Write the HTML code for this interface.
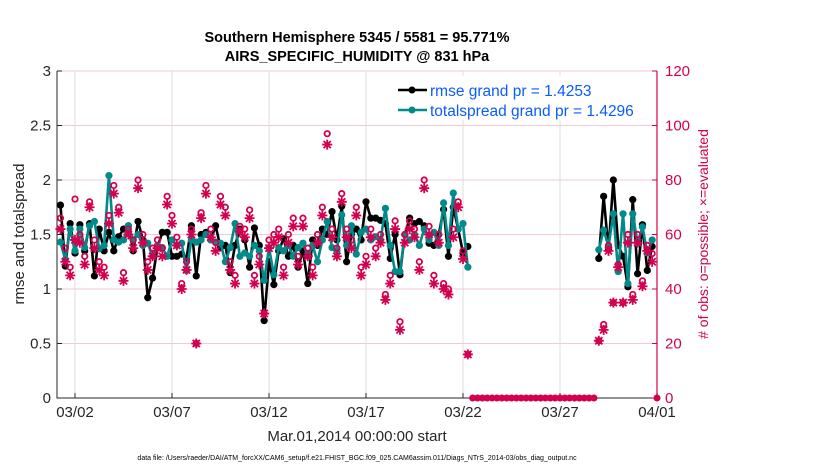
<!DOCTYPE html>
<html><head><meta charset="utf-8"><style>
body{margin:0;background:#fff;}
svg{display:block;font-family:"Liberation Sans",sans-serif;}
</style></head><body>
<svg id="chart" width="830" height="470"></svg>
<script>
const rmse1=[1.77,1.21,1.60,1.33,1.59,1.35,1.60,1.12,1.55,1.35,
1.52,1.35,1.48,1.55,1.58,1.35,1.62,1.45,0.92,1.10,
1.38,1.52,1.52,1.30,1.30,1.32,1.28,1.58,1.12,1.50,
1.52,1.45,1.58,1.38,1.40,1.15,1.40,1.55,1.45,1.20,
1.56,1.40,0.71,1.25,1.04,1.35,1.46,1.30,1.40,1.20,
1.35,1.05,1.45,1.40,1.55,1.50,1.71,1.45,1.76,1.25,
1.50,1.55,1.45,1.80,1.65,1.65,1.63,1.60,1.28,1.50,
1.13,1.50,1.65,1.60,1.62,1.58,1.42,1.40,1.50,1.73,
1.30,1.75,1.55,1.33,1.39];
const spread1=[1.43,1.27,1.55,1.35,1.55,1.38,1.58,1.62,1.37,1.40,
2.04,1.45,1.43,1.45,1.58,1.45,1.50,1.40,1.42,1.30,
1.40,1.38,1.30,1.45,1.40,1.42,1.17,1.45,1.43,1.45,
1.50,1.45,1.43,1.42,1.25,1.38,1.60,1.30,1.33,1.30,
1.40,1.35,1.08,1.38,1.13,1.38,1.35,1.40,1.30,1.38,
1.42,1.30,1.40,1.25,1.45,1.62,1.38,1.35,1.68,1.40,
1.58,1.32,1.52,1.55,1.45,1.48,1.45,1.74,1.40,1.16,
1.16,1.50,1.45,1.50,1.40,1.55,1.45,1.52,1.40,1.79,
1.40,1.88,1.55,1.60,1.20];
const possible1=[66,55,48,73,60,52,72,58,50,48,
67,78,70,46,62,58,80,60,50,55,
58,55,74,67,59,42,50,62,20,68,
78,62,57,74,70,50,45,63,62,69,
45,52,31,58,60,62,48,60,66,52,
66,55,48,60,70,97,62,55,75,62,
58,70,48,52,62,55,60,38,45,65,
28,60,65,62,50,80,63,45,60,42,
40,62,72,54,16];
const evaluated1=[62,50,45,58,57,49,70,55,47,45,
64,75,68,43,60,55,77,57,47,52,
55,52,71,64,56,40,47,60,20,66,
75,59,54,71,67,47,42,61,59,66,
42,49,31,55,57,59,45,57,63,49,
63,52,45,57,67,93,59,52,72,59,
55,67,45,49,59,52,57,36,42,62,
25,57,62,59,47,77,60,42,57,40,
38,59,70,51,16];
const rmse2=[1.28,1.85,1.36,2.00,1.40,1.30,1.02,1.82,1.14,1.59,1.17,1.39];
const spread2=[1.36,1.54,1.39,1.69,1.16,1.69,1.05,1.69,1.42,1.57,1.33,1.45];
const possible2=[21,27,56,35,49,35,60,38,60,43,56,53];
const evaluated2=[21,25,54,35,48,35,57,36,57,41,54,50];
const xTickLabels=["03/02","03/07","03/12","03/17","03/22","03/27","04/01"];
const xTickDays=[1,6,11,16,21,26,31];
const yTicks=[0,0.5,1,1.5,2,2.5,3];
const y2Ticks=[0,20,40,60,80,100,120];

const L=57,R=657,T=71,B=398;
const X=d=>75+(d-1)*19.4;
const Y=v=>B-(v/3)*(B-T);
const Y2=c=>B-(c/120)*(B-T);
const svg=document.getElementById('chart');
const NS='http://www.w3.org/2000/svg';
function mk(tag,at,parent){const e=document.createElementNS(NS,tag);for(const k in at)e.setAttribute(k,at[k]);(parent||svg).appendChild(e);return e;}
const MAG='#d4004f',TEAL='#008a8a';

y2Ticks.forEach(t=>{const l=mk('line',{x1:L,x2:R,y1:Y2(t),y2:Y2(t),stroke:'#f3c9d8','stroke-width':1});

});
xTickDays.forEach(d=>{const l=mk('line',{x1:X(d),x2:X(d),y1:T,y2:B,stroke:'#dcdcdc','stroke-width':1});

});

const ax=mk('path',{d:`M${L},${T}V${B}H${R}`,fill:'none',stroke:'#262626','stroke-width':1});


const ax2=mk('line',{x1:R,x2:R,y1:T,y2:B,stroke:MAG,'stroke-width':1.2});



yTicks.forEach(t=>{mk('line',{x1:L,x2:L+5,y1:Y(t),y2:Y(t),stroke:'#262626'});
const tx=mk('text',{x:L-6,y:Y(t)+5,'text-anchor':'end','font-size':15,fill:'#262626'});tx.textContent=String(t);

});
y2Ticks.forEach(t=>{mk('line',{x1:R-5,x2:R,y1:Y2(t),y2:Y2(t),stroke:MAG});
const tx=mk('text',{x:R+8,y:Y2(t)+5,'font-size':15,fill:MAG});tx.textContent=String(t);

});
xTickDays.forEach((d,i)=>{mk('line',{x1:X(d),x2:X(d),y1:B,y2:B-5,stroke:'#262626'});
const tx=mk('text',{x:X(d),y:B+19,'text-anchor':'middle','font-size':15,fill:'#262626'});tx.textContent=xTickLabels[i];

});

const days1=rmse1.map((_,i)=>0.25+0.25*i);
const days2=rmse2.map((_,i)=>28+0.25*i);
const zeroDays=[];for(let i=0;i<26;i++)zeroDays.push(21.5+0.25*i);zeroDays.push(31);

function line(days,vals,color,name){
 const p=mk('polyline',{points:days.map((d,i)=>X(d)+','+Y(vals[i])).join(' '),fill:'none',stroke:color,'stroke-width':2.6,'stroke-linejoin':'round'});
 
 
 days.forEach((d,i)=>{const c=mk('circle',{cx:X(d),cy:Y(vals[i]),r:3.6,fill:color});
 
 });
}
function star(x,y,name){
 const g=mk('g',{stroke:MAG,'stroke-width':1.8});
 
 
 mk('path',{d:`M${x-5},${y}H${x+5}M${x},${y-5}V${y+5}M${x-3.6},${y-3.6}L${x+3.6},${y+3.6}M${x-3.6},${y+3.6}L${x+3.6},${y-3.6}`},g);
}
function circ(x,y){const c=mk('circle',{cx:x,cy:y,r:2.7,fill:'none',stroke:MAG,'stroke-width':1.8});

}

line(days1,rmse1,'#000','rmse');
line(days2,rmse2,'#000','rmse');
line(days1,spread1,TEAL,'spread');
line(days2,spread2,TEAL,'spread');
days1.forEach((d,i)=>{circ(X(d),Y2(possible1[i]));star(X(d),Y2(evaluated1[i]),'evaluated-obs-marker');});
days2.forEach((d,i)=>{circ(X(d),Y2(possible2[i]));star(X(d),Y2(evaluated2[i]),'evaluated-obs-marker');});
zeroDays.forEach(d=>{const c=mk('circle',{cx:X(d),cy:Y2(0),r:3.5,fill:MAG});

});

function text(x,y,s,at,name){const t=mk('text',Object.assign({x:x,y:y},at));t.textContent=s;

return t;}
text(357,42,'Southern Hemisphere 5345 / 5581 = 95.771%',{'text-anchor':'middle','font-size':14.5,'font-weight':'bold',fill:'#000'},'chart-title');
text(357,61,'AIRS_SPECIFIC_HUMIDITY @ 831 hPa',{'text-anchor':'middle','font-size':14.5,'font-weight':'bold',fill:'#000'},'chart-subtitle');
text(357,441,'Mar.01,2014 00:00:00 start',{'text-anchor':'middle','font-size':15,fill:'#262626'},'x-axis-title');
text(357,460,'data file: /Users/raeder/DAI/ATM_forcXX/CAM6_setup/f.e21.FHIST_BGC.f09_025.CAM6assim.011/Diags_NTrS_2014-03/obs_diag_output.nc',{'text-anchor':'middle','font-size':7,fill:'#000'},'data-file-note');
text(0,0,'rmse and totalspread',{'text-anchor':'middle','font-size':15,fill:'#262626',transform:'translate(24,234) rotate(-90)'},'y-axis-title');
text(0,0,'# of obs: o=possible; \u00d7=evaluated',{'text-anchor':'middle','font-size':14,fill:MAG,transform:'translate(708,234) rotate(-90)'},'y2-axis-title');

const lg=mk('g',{});


mk('rect',{x:392,y:76,width:262,height:44,fill:'#fff'},lg);
[['rmse grand pr = 1.4253','#000',90],['totalspread grand pr = 1.4296',TEAL,110]].forEach(([s,c,y])=>{
 mk('line',{x1:398,x2:427,y1:y,y2:y,stroke:c,'stroke-width':2.6},lg);
 mk('circle',{cx:412,cy:y,r:3.5,fill:c},lg);
 const t=mk('text',{x:430,y:y+6,'font-size':15.5,fill:'#0a5cff'},lg);t.textContent=s;
 
 
});
</script>
</body></html>
